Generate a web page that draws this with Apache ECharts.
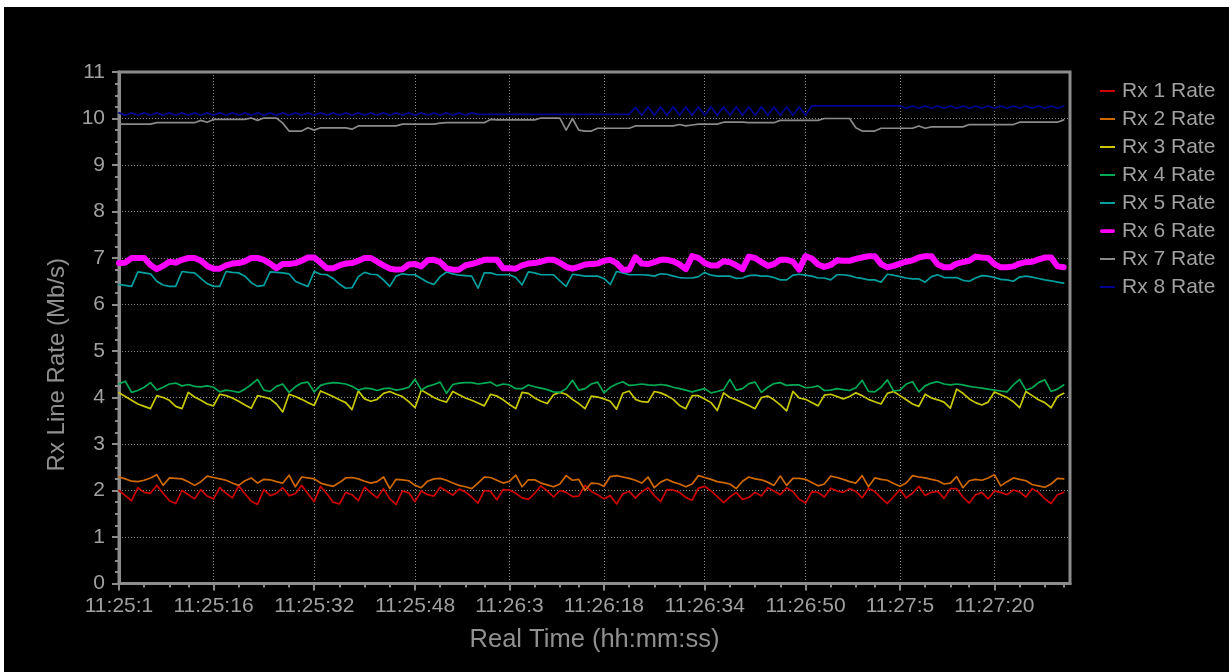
<!DOCTYPE html>
<html>
<head>
<meta charset="utf-8">
<script src="https://cdn.jsdelivr.net/npm/echarts@6/dist/echarts.min.js"></script>
<style>
  html, body { margin: 0; padding: 0; background: #ffffff; width: 1229px; height: 672px; overflow: hidden; }
  #chart { position: absolute; left: 4px; top: 7px; width: 1225px; height: 665px; background: #000000; }
</style>
</head>
<body>
<div id="chart"></div>
<script>
// ---- data (one sample per second, starting 11:25:01) ----
const seriesNames = ['Rx 1 Rate','Rx 2 Rate','Rx 3 Rate','Rx 4 Rate','Rx 5 Rate','Rx 6 Rate','Rx 7 Rate','Rx 8 Rate'];
const seriesColors = ['#cc0000','#d06800','#c8c800','#00aa55','#00a0a0','#ff00ff','#8a8a8a','#000090'];

const tickIndex  = [0, 15, 31, 47, 62, 77, 93, 109, 124, 139];
const tickLabels = ['11:25:1','11:25:16','11:25:32','11:25:48','11:26:3','11:26:18','11:26:34','11:26:50','11:27:5','11:27:20'];
const minorTickIndex = [4,8,11,19,23,27,35,39,43,51,55,58,66,70,73,81,85,89,97,101,105,113,117,120,128,132,135,143,147,150];
const sampleCount = 152;

const rx1 = [
2.0,1.89,1.78,2.06,1.96,1.94,2.11,1.94,1.78,1.72,
2.0,1.91,1.82,2.02,1.88,1.82,2.06,1.94,1.84,2.1,
1.93,1.77,1.7,2.02,1.89,1.94,2.06,1.89,1.93,2.11,
1.93,1.76,2.09,1.93,1.75,1.71,1.96,1.91,1.78,2.07,
1.95,1.84,2.04,1.82,1.7,1.99,1.95,1.76,1.99,1.91,
1.88,2.07,1.99,1.9,2.03,1.97,1.86,1.73,2.0,1.98,
1.8,2.02,2.01,1.94,1.84,1.81,1.94,2.1,1.99,1.86,
2.0,1.96,1.87,1.88,2.11,1.98,1.91,1.82,1.89,1.71,
1.93,1.98,1.84,1.97,2.06,1.89,1.76,2.02,2.01,1.96,
1.85,1.79,2.05,2.09,1.99,1.87,1.74,1.86,1.96,1.81,
1.85,1.96,1.88,2.06,1.99,1.91,2.06,1.98,1.81,1.73,
1.97,1.96,1.86,2.05,1.99,1.96,2.04,1.98,1.84,2.05,
1.98,1.84,1.72,1.87,2.02,1.84,1.94,2.09,1.89,1.96,
1.98,1.83,2.04,2.04,1.86,1.73,1.91,1.96,1.82,1.99,
1.96,1.91,2.01,1.97,1.86,2.04,1.96,1.82,1.72,1.91,1.96];

const rx2 = [
2.29,2.25,2.2,2.19,2.22,2.27,2.34,2.11,2.27,2.26,
2.25,2.19,2.11,2.19,2.31,2.28,2.25,2.22,2.16,2.11,
2.21,2.27,2.16,2.24,2.23,2.19,2.16,2.33,2.08,2.29,
2.27,2.25,2.16,2.12,2.09,2.17,2.27,2.28,2.25,2.2,
2.16,2.19,2.29,2.04,2.24,2.23,2.21,2.11,2.06,2.2,
2.25,2.26,2.22,2.16,2.11,2.08,2.04,2.16,2.29,2.28,
2.22,2.16,2.2,2.33,2.08,2.23,2.23,2.16,2.12,2.08,
2.14,2.32,2.22,2.24,2.0,2.16,2.15,2.09,2.3,2.32,
2.29,2.26,2.22,2.16,2.29,2.06,2.18,2.24,2.18,2.14,
2.08,2.14,2.32,2.28,2.24,2.19,2.17,2.14,2.04,2.2,
2.29,2.25,2.23,2.18,2.11,2.31,2.11,2.26,2.26,2.24,
2.17,2.1,2.14,2.31,2.28,2.24,2.19,2.16,2.32,2.08,
2.27,2.24,2.22,2.15,2.09,2.16,2.32,2.29,2.27,2.24,
2.21,2.14,2.16,2.3,2.06,2.21,2.24,2.22,2.27,2.34,
2.1,2.19,2.27,2.24,2.21,2.13,2.1,2.07,2.14,2.26,2.25];

const rx3 = [
4.1,4.02,3.94,3.86,3.81,3.76,4.04,4.0,3.94,3.81,
3.76,4.11,4.01,3.94,3.86,3.82,4.07,4.04,3.99,3.92,
3.84,3.77,4.04,4.01,3.97,3.86,3.69,4.07,4.02,3.96,
3.89,3.83,4.14,4.08,4.02,3.95,3.89,3.74,4.14,3.97,
3.92,3.96,4.09,4.13,4.07,4.02,3.91,3.78,4.16,4.08,
4.0,3.94,3.9,4.13,4.06,3.99,3.94,3.88,3.82,4.07,
4.03,3.95,3.85,3.76,4.11,4.09,3.99,3.92,3.87,4.06,
4.11,4.07,3.96,3.87,3.76,4.03,4.01,3.97,3.92,3.75,
4.09,4.14,3.96,3.91,3.9,4.13,4.1,4.04,3.96,3.83,
3.76,4.04,4.04,3.97,3.89,3.72,4.1,4.0,3.95,3.89,
3.83,3.76,4.0,4.03,3.95,3.84,3.71,4.13,3.99,3.96,
3.89,3.82,4.05,4.07,4.02,3.97,4.02,4.1,4.04,3.96,
3.91,3.86,4.09,4.13,4.04,3.95,3.86,3.81,4.07,3.99,
3.95,3.9,3.77,4.18,4.09,3.97,3.89,3.84,3.9,4.12,
4.06,4.0,3.91,3.78,4.13,4.04,3.95,3.89,3.78,4.02,4.09];

const rx4 = [
4.29,4.35,4.11,4.15,4.22,4.32,4.16,4.22,4.29,4.31,
4.25,4.28,4.24,4.23,4.25,4.22,4.12,4.16,4.14,4.11,
4.18,4.28,4.39,4.16,4.13,4.24,4.29,4.11,4.23,4.31,
4.33,4.12,4.26,4.3,4.32,4.31,4.29,4.24,4.16,4.2,
4.19,4.15,4.19,4.2,4.16,4.18,4.22,4.39,4.16,4.24,
4.28,4.33,4.09,4.28,4.31,4.32,4.32,4.29,4.31,4.33,
4.25,4.29,4.27,4.19,4.19,4.27,4.23,4.2,4.17,4.12,
4.11,4.19,4.37,4.16,4.19,4.29,4.33,4.1,4.22,4.29,
4.34,4.26,4.27,4.29,4.27,4.26,4.28,4.26,4.22,4.19,
4.16,4.12,4.16,4.19,4.1,4.13,4.17,4.39,4.16,4.19,
4.3,4.33,4.11,4.22,4.3,4.32,4.26,4.27,4.27,4.21,
4.22,4.25,4.15,4.16,4.19,4.17,4.15,4.21,4.37,4.13,
4.12,4.22,4.38,4.14,4.16,4.29,4.34,4.12,4.25,4.31,
4.34,4.29,4.27,4.29,4.27,4.24,4.22,4.2,4.18,4.16,
4.14,4.12,4.27,4.39,4.16,4.21,4.32,4.38,4.13,4.18,4.27];

const rx5 = [
6.43,6.41,6.39,6.7,6.68,6.66,6.5,6.42,6.39,6.39,
6.71,6.69,6.68,6.56,6.45,6.39,6.39,6.71,6.69,6.68,
6.61,6.47,6.39,6.41,6.7,6.69,6.68,6.66,6.5,6.44,
6.39,6.71,6.65,6.64,6.56,6.44,6.35,6.36,6.6,6.69,
6.65,6.64,6.53,6.39,6.61,6.66,6.64,6.64,6.56,6.48,
6.43,6.6,6.7,6.66,6.63,6.62,6.61,6.35,6.68,6.68,
6.64,6.64,6.64,6.58,6.42,6.7,6.68,6.64,6.64,6.64,
6.51,6.39,6.65,6.63,6.61,6.61,6.61,6.56,6.43,6.71,
6.68,6.64,6.64,6.64,6.63,6.61,6.66,6.65,6.61,6.58,
6.57,6.57,6.6,6.69,6.63,6.61,6.61,6.61,6.56,6.57,
6.62,6.63,6.61,6.61,6.58,6.53,6.53,6.63,6.65,6.63,
6.61,6.57,6.57,6.53,6.64,6.64,6.62,6.58,6.56,6.53,
6.53,6.48,6.65,6.63,6.6,6.57,6.55,6.55,6.48,6.6,
6.64,6.58,6.58,6.58,6.52,6.5,6.57,6.62,6.61,6.58,
6.54,6.53,6.5,6.59,6.61,6.59,6.56,6.53,6.51,6.48,6.46];

const rx6 = [
6.89,6.9,7.0,7.0,7.0,6.85,6.76,6.83,6.92,6.9,
6.96,7.0,7.0,6.94,6.83,6.77,6.77,6.84,6.88,6.89,
6.93,7.0,7.0,6.96,6.88,6.78,6.87,6.87,6.89,6.94,
7.01,7.01,6.9,6.78,6.78,6.84,6.88,6.89,6.94,7.0,
7.0,6.92,6.84,6.77,6.75,6.76,6.86,6.87,6.82,6.95,
6.96,6.91,6.78,6.75,6.75,6.84,6.87,6.91,6.96,6.96,
6.96,6.78,6.78,6.77,6.84,6.88,6.89,6.92,6.96,6.96,
6.9,6.81,6.77,6.81,6.86,6.87,6.88,6.94,6.96,6.89,
6.75,6.75,7.02,6.88,6.87,6.91,6.96,6.96,6.93,6.86,
6.76,7.04,7.0,6.89,6.84,6.84,6.93,6.91,6.84,6.76,
7.03,7.0,6.91,6.83,6.87,6.96,6.96,6.92,6.75,7.04,
6.99,6.86,6.81,6.85,6.95,6.94,6.94,6.98,7.01,7.04,
7.04,6.87,6.8,6.83,6.88,6.92,6.95,7.01,7.04,7.04,
6.86,6.8,6.8,6.88,6.91,6.94,7.03,7.01,7.0,6.87,
6.8,6.8,6.82,6.88,6.91,6.92,6.97,7.01,7.01,6.82,6.8];

const rx7 = [
9.88,9.88,9.88,9.88,9.88,9.88,9.91,9.91,9.91,9.91,
9.91,9.91,9.91,9.96,9.92,9.98,9.98,9.98,9.98,9.98,
9.98,10.01,9.96,10.01,10.01,10.01,9.9,9.73,9.73,9.73,
9.8,9.75,9.8,9.8,9.8,9.8,9.8,9.77,9.84,9.84,
9.84,9.84,9.84,9.84,9.84,9.88,9.88,9.88,9.88,9.88,
9.88,9.9,9.91,9.91,9.91,9.91,9.91,9.91,9.91,9.98,
9.97,9.97,9.97,9.97,9.97,9.97,9.97,10.01,10.01,10.01,
10.01,9.75,10.0,9.75,9.73,9.73,9.79,9.79,9.79,9.79,
9.79,9.79,9.84,9.84,9.84,9.84,9.84,9.84,9.84,9.87,
9.84,9.86,9.88,9.88,9.88,9.88,9.92,9.92,9.92,9.92,
9.91,9.91,9.91,9.91,9.91,9.96,9.96,9.96,9.96,9.96,
9.96,9.96,10.0,10.0,10.0,10.0,10.0,9.8,9.73,9.73,
9.73,9.79,9.79,9.79,9.79,9.79,9.79,9.84,9.79,9.82,
9.82,9.82,9.82,9.82,9.82,9.87,9.87,9.87,9.87,9.87,
9.87,9.87,9.87,9.92,9.92,9.92,9.92,9.92,9.92,9.92,9.97];

const rx8 = [
10.12,10.07,10.12,10.07,10.12,10.07,10.12,10.07,10.12,10.07,
10.12,10.07,10.12,10.07,10.12,10.07,10.12,10.07,10.12,10.07,
10.12,10.07,10.12,10.07,10.12,10.07,10.12,10.07,10.12,10.07,
10.12,10.07,10.12,10.07,10.12,10.07,10.12,10.07,10.12,10.07,
10.12,10.07,10.12,10.07,10.12,10.07,10.12,10.07,10.12,10.07,
10.12,10.07,10.12,10.07,10.12,10.07,10.12,10.09,10.09,10.09,
10.09,10.09,10.09,10.09,10.09,10.09,10.09,10.09,10.09,10.09,
10.09,10.09,10.09,10.09,10.09,10.09,10.09,10.09,10.09,10.09,
10.09,10.09,10.24,10.07,10.25,10.07,10.25,10.07,10.25,10.07,
10.25,10.07,10.25,10.07,10.25,10.07,10.25,10.07,10.25,10.07,
10.25,10.07,10.25,10.07,10.25,10.07,10.25,10.07,10.25,10.07,
10.27,10.27,10.27,10.27,10.27,10.27,10.27,10.27,10.27,10.27,
10.27,10.27,10.27,10.27,10.27,10.22,10.27,10.22,10.27,10.22,
10.27,10.22,10.27,10.22,10.27,10.22,10.27,10.22,10.27,10.22,
10.27,10.22,10.27,10.22,10.27,10.22,10.27,10.22,10.27,10.22,10.27];

const allSeries = [rx1, rx2, rx3, rx4, rx5, rx6, rx7, rx8];

// ---- chart ----
const FONT = '"Liberation Sans", Arial, sans-serif';
const TEXT = '#a0a0a0';
const AXIS = '#8c8c8c';
const GRIDC = '#8a8a8a';
const categories = Array.from({ length: sampleCount }, (_, i) => String(i));
const isMajor = (i) => tickIndex.indexOf(i) >= 0;
const isMinor = (i) => minorTickIndex.indexOf(i) >= 0;
const thinIcon = 'path://M0,0 L15,0 L15,2 L0,2 Z';
const thickIcon = 'path://M2.5,0 L17.5,0 A2.5,2.5 0 0 1 17.5,5 L2.5,5 A2.5,2.5 0 0 1 2.5,0 Z';

const chart = echarts.init(document.getElementById('chart'), null, { renderer: 'canvas' });
chart.setOption({
  backgroundColor: '#000000',
  animation: false,
  grid: { left: 115, top: 65, right: 159, bottom: 88.5, show: true, borderColor: AXIS, borderWidth: 3, backgroundColor: 'transparent' },
  legend: {
    orient: 'vertical', left: 1096, top: 73.5, padding: 0,
    itemWidth: 15, itemHeight: 14, itemGap: 7,
    textStyle: { color: TEXT, fontSize: 21, fontFamily: FONT, lineHeight: 20, padding: [0, 0, 0, 2] },
    data: seriesNames.map((n, k) => ({ name: n, icon: k === 5 ? thickIcon : thinIcon }))
  },
  xAxis: [{
    type: 'category', data: categories, boundaryGap: false, position: 'bottom',
    name: 'Real Time (hh:mm:ss)', nameLocation: 'middle', nameGap: 43,
    nameTextStyle: { color: '#909090', fontSize: 25.5, fontFamily: FONT },
    axisLine: { show: true, lineStyle: { color: AXIS, width: 3 } },
    axisTick: { show: true, interval: isMajor, length: 7, lineStyle: { color: AXIS, width: 2 } },
    axisLabel: { show: true, interval: isMajor, margin: 12, color: TEXT, fontSize: 21, fontFamily: FONT,
      formatter: (v) => { const k = tickIndex.indexOf(Number(v)); return k >= 0 ? tickLabels[k] : ''; } },
    splitLine: { show: true, interval: isMajor, lineStyle: { color: GRIDC, width: 1, type: [1, 2] } }
  }, {
    type: 'category', data: categories, boundaryGap: false, position: 'bottom', offset: 0,
    axisLine: { show: false },
    axisTick: { show: true, interval: isMinor, length: 4, lineStyle: { color: AXIS, width: 2 } },
    axisLabel: { show: false },
    splitLine: { show: false }
  }],
  yAxis: {
    type: 'value', min: 0, max: 11, interval: 1,
    name: 'Rx Line Rate (Mb/s)', nameLocation: 'middle', nameGap: 50,
    nameTextStyle: { color: '#909090', fontSize: 24, fontFamily: FONT, padding: [0, 74, 0, 0] },
    axisLine: { show: true, lineStyle: { color: AXIS, width: 3 } },
    axisTick: { show: true, length: 7, lineStyle: { color: AXIS, width: 2 } },
    minorTick: { show: true, splitNumber: 4, length: 4, lineStyle: { color: AXIS, width: 2 } },
    axisLabel: { margin: 14, color: TEXT, fontSize: 21, fontFamily: FONT },
    splitLine: { show: true, lineStyle: { color: GRIDC, width: 1, type: [1, 2] } }
  },
  series: allSeries.map((arr, k) => ({
    name: seriesNames[k], type: 'line', data: arr, xAxisIndex: 0,
    symbol: 'none', showSymbol: false, smooth: false,
    color: seriesColors[k],
    lineStyle: { color: seriesColors[k], width: k === 5 ? 6 : 1.7, join: 'round', cap: 'round' },
    emphasis: { disabled: true }
  }))
});
</script>
</body>
</html>
